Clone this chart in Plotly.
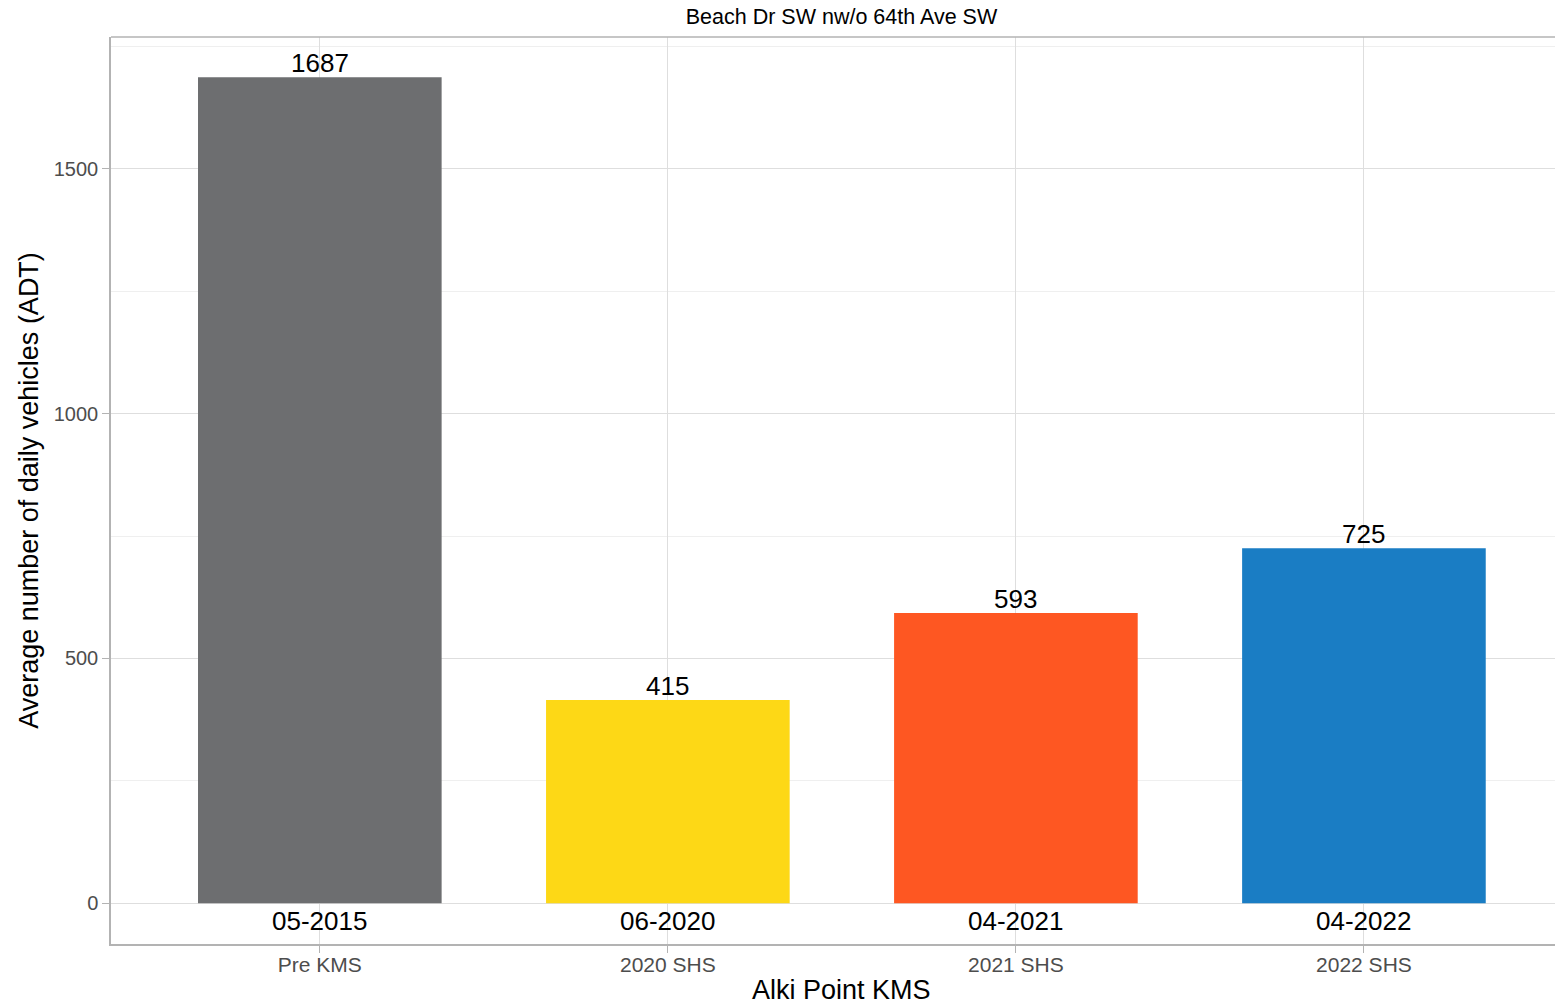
import plotly.graph_objects as go

# Alki Point KMS: average daily traffic at Beach Dr SW nw/o 64th Ave SW
periods = ["Pre KMS", "2020 SHS", "2021 SHS", "2022 SHS"]
count_dates = ["05-2015", "06-2020", "04-2021", "04-2022"]
adt = [1687, 415, 593, 725]
bar_colors = ["#6D6E70", "#FDD816", "#FE5722", "#1A7DC4"]

FONT = "Liberation Sans, Arial, Helvetica, sans-serif"
GRID = "#DEDEDE"
GRID_MINOR = "#EFEFEF"
BORDER = "#B3B3B3"
AXIS_TEXT = "#4D4D4D"

# the panel runs slightly past the right edge of the page; centre titles on the full panel
PANEL_CENTER = 0.5059

fig = go.Figure(
    go.Bar(
        x=periods,
        y=adt,
        width=0.7,
        marker=dict(color=bar_colors, line=dict(width=0)),
        hoverinfo="x+y",
        showlegend=False,
    )
)

# value labels on top of each bar
for p, v in zip(periods, adt):
    fig.add_annotation(
        x=p, y=v, text=str(v), showarrow=False,
        yanchor="bottom", yshift=-3,
        font=dict(family=FONT, size=26, color="black"),
    )

# count date under each bar, inside the panel
for p, d in zip(periods, count_dates):
    fig.add_annotation(
        x=p, y=0, text=d, showarrow=False,
        yanchor="middle", yshift=-18,
        font=dict(family=FONT, size=26, color="black"),
    )

# x-axis title
fig.add_annotation(
    xref="paper", yref="paper", x=PANEL_CENTER, y=0,
    text="Alki Point KMS", showarrow=False,
    xanchor="center", yanchor="middle", yshift=-46, borderpad=0,
    font=dict(family=FONT, size=27, color="black"),
)

# top border of the panel
fig.add_shape(
    type="line", xref="paper", yref="paper",
    x0=0, x1=1, y0=1, y1=1,
    line=dict(color=BORDER, width=1.5), layer="above",
)

fig.update_layout(
    width=1555,
    height=1007,
    margin=dict(l=111, r=0, t=37, b=63),
    paper_bgcolor="white",
    plot_bgcolor="white",
    font=dict(family=FONT, color="black"),
    title=dict(
        text="Beach Dr SW nw/o 64th Ave SW",
        x=PANEL_CENTER, xref="paper", xanchor="center",
        y=1 - 16 / 1007, yref="container", yanchor="middle",
        font=dict(family=FONT, size=21.5, color="black"),
    ),
    bargap=0.3,
)

fig.update_xaxes(
    type="category",
    range=[-0.6, 3.549],
    showgrid=True, gridcolor=GRID, gridwidth=1.2,
    showline=True, linecolor=BORDER, linewidth=1.5, mirror=False,
    ticks="outside", ticklen=7, tickcolor=BORDER, tickwidth=1.2,
    ticklabelstandoff=-6,
    tickfont=dict(family=FONT, size=21, color=AXIS_TEXT),
    zeroline=False,
)

fig.update_yaxes(
    range=[-83, 1769],
    tickvals=[0, 500, 1000, 1500],
    showgrid=True, gridcolor=GRID, gridwidth=1.2,
    minor=dict(tick0=0, dtick=250, showgrid=True, gridcolor=GRID_MINOR, gridwidth=1),
    showline=True, linecolor=BORDER, linewidth=1.5, mirror=False,
    ticks="outside", ticklen=7, tickcolor=BORDER, tickwidth=1.2,
    tickfont=dict(family=FONT, size=20, color=AXIS_TEXT),
    title=dict(text="Average number of daily vehicles (ADT)", standoff=7,
               font=dict(family=FONT, size=27, color="black")),
    zeroline=False,
)

fig.write_html("out.html")
